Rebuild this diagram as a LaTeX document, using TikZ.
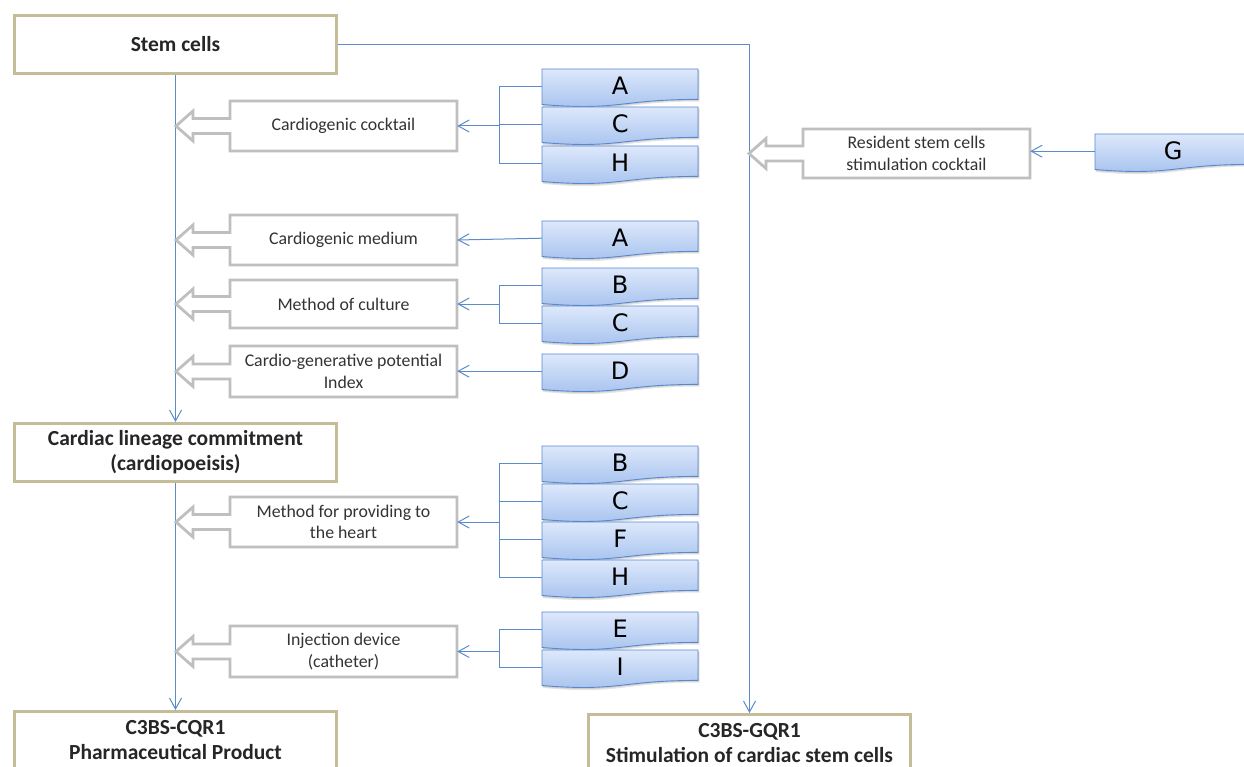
\documentclass[tikz,border=0pt]{standalone}
\usepackage{fontspec}
\setmainfont{Carlito}
\newfontfamily\dejavu{DejaVu Sans}
\usetikzlibrary{arrows.meta,calc}
\definecolor{tanline}{HTML}{C4BD97}
\definecolor{grayline}{HTML}{BFBFBF}
\definecolor{connblue}{HTML}{5B8BCB}
\definecolor{doctop}{HTML}{DDE8FB}
\definecolor{docbot}{HTML}{A4C1EE}
\definecolor{docline}{HTML}{5A88CF}
\tikzset{
  tanbox/.style={draw=tanline, line width=3pt, fill=white, minimum width=322pt, minimum height=58pt, align=center, font=\fontsize{21.5}{25}\selectfont\bfseries, text=black!85},
  callline/.style={draw=grayline, line width=2.8pt, fill=white, line join=miter},
  calltext/.style={minimum width=227pt, minimum height=50pt, align=center, font=\fontsize{17.8}{21.5}\selectfont, text=black!80, inner sep=0pt},
  docfill/.style={top color=doctop, bottom color=docbot, draw=docline, line width=0.9pt},
  docletter/.style={font=\dejavu\fontsize{24}{24}\selectfont, text=black, inner sep=0pt, minimum width=156pt, minimum height=34pt},
  conn/.style={draw=connblue, line width=1pt},
  arr/.style={-{Straight Barb[length=11pt,width=12pt]}},
}
\newcommand\docshape[4]{%
  \fill[black,opacity=0.10] ({#2+1},{#3+1.5}) -- ({#2+157.5},{#3+1.5}) -- ({#2+157.5},{#3+32.5}) .. controls ({#2+79},{#3+32.5}) and ({#2+79},{#3+45}) .. ({#2+1},{#3+38}) -- cycle;
  \fill[black,opacity=0.10] ({#2+0.5},{#3+1}) -- ({#2+156.8},{#3+1}) -- ({#2+156.8},{#3+31.5}) .. controls ({#2+78.5},{#3+31.5}) and ({#2+78.5},{#3+43.5}) .. ({#2+0.5},{#3+37}) -- cycle;
  \shadedraw[docfill] (#2,#3) -- ({#2+156},#3) -- ({#2+156},{#3+30.4}) .. controls ({#2+78},{#3+30.4}) and ({#2+78},{#3+42}) .. (#2,{#3+35.5}) -- cycle;
  \node[docletter, anchor=north west] (#1) at (#2,#3) {#4};
}
% name, left, right, top, bottom, tip x, text
\newcommand\callout[7]{%
  \pgfmathsetmacro\cy{(#4+#5)/2}
  \draw[callline] (#2,#4) -- (#3,#4) -- (#3,#5) -- (#2,#5) -- (#2,{\cy+7.5}) -- ({#6+17},{\cy+7.5}) -- ({#6+17},{\cy+15}) -- (#6,\cy) -- ({#6+17},{\cy-15}) -- ({#6+17},{\cy-7.5}) -- (#2,{\cy-7.5}) -- cycle;
  \node[calltext] (#1) at ({(#2+#3)/2},\cy) {#7};
}
\begin{document}
\begin{tikzpicture}[x=1pt,y=-1pt]
\useasboundingbox (0,0) rectangle (1244,767);

% main boxes
\node[tanbox] (stem) at (175.5,44.5) {Stem cells};
\node[tanbox] (cardiac) at (175.5,452.5) {Cardiac lineage commitment\\(cardiopoeisis)};
\node[tanbox] (cqr) at (175.5,740.5) {C3BS-CQR1\\Pharmaceutical Product};
\node[tanbox] (gqr) at (749.5,743.5) {C3BS-GQR1\\Stimulation of cardiac stem cells};

% main connectors
\draw[conn,arr] (stem.south) -- (cardiac.north);
\draw[conn,arr] (cardiac.south) -- (cqr.north);
\draw[conn,arr] (stem.east) -| (gqr.north);

% callouts
\callout{c1}{230}{457}{101}{151}{176}{Cardiogenic cocktail}
\callout{c2}{230}{457}{215}{265}{176}{Cardiogenic medium}
\callout{c3}{230}{457}{280}{328}{176}{Method of culture}
\callout{c4}{230}{457}{346}{397}{176}{Cardio-generative potential\\Index}
\callout{c5}{230}{457}{497}{547}{176}{Method for providing to\\the heart}
\callout{c6}{230}{457}{626}{677}{176}{Injection device\\(catheter)}
\callout{c7}{803}{1030}{129}{178}{749}{Resident stem cells\\stimulation cocktail}

% documents
\docshape{d1a}{542}{69}{A}
\docshape{d1c}{542}{107}{C}
\docshape{d1h}{542}{146}{H}
\docshape{d2a}{542}{221}{A}
\docshape{d3b}{542}{268}{B}
\docshape{d3c}{542}{306}{C}
\docshape{d4d}{542}{354}{D}
\docshape{d5b}{542}{446}{B}
\docshape{d5c}{542}{484}{C}
\docshape{d5f}{542}{522}{F}
\docshape{d5h}{542}{560}{H}
\docshape{d6e}{542}{612}{E}
\docshape{d6i}{542}{650}{I}
\docshape{d7g}{1095}{134}{G}

% junctions
\coordinate (j1) at (499,126);
\coordinate (j3) at (499,304);
\coordinate (j5) at (499,522);
\coordinate (j6) at (499,651.5);

% row 1
\draw[conn] (d1a.west) -- (d1a.west -| j1) -- (d1h.west -| j1) -- (d1h.west);
\draw[conn] (d1c.west) -- (d1c.west -| j1);
\draw[conn,arr] (j1) -- (c1.east);
% row 2
\draw[conn,arr] (d2a.west) -- (c2.east);
% row 3
\draw[conn] (d3b.west) -- (d3b.west -| j3) -- (d3c.west -| j3) -- (d3c.west);
\draw[conn,arr] (j3) -- (c3.east);
% row 4
\draw[conn,arr] (d4d.west) -- (d4d.west -| c4.east);
% row 5
\draw[conn] (d5b.west) -- (d5b.west -| j5) -- (d5h.west -| j5) -- (d5h.west);
\draw[conn] (d5c.west) -- (d5c.west -| j5);
\draw[conn] (d5f.west) -- (d5f.west -| j5);
\draw[conn,arr] (j5) -- (c5.east);
% row 6
\draw[conn] (d6e.west) -- (d6e.west -| j6) -- (d6i.west -| j6) -- (d6i.west);
\draw[conn,arr] (j6) -- (c6.east);
% row 7
\draw[conn,arr] (d7g.west) -- (d7g.west -| c7.east);
\end{tikzpicture}
\end{document}
